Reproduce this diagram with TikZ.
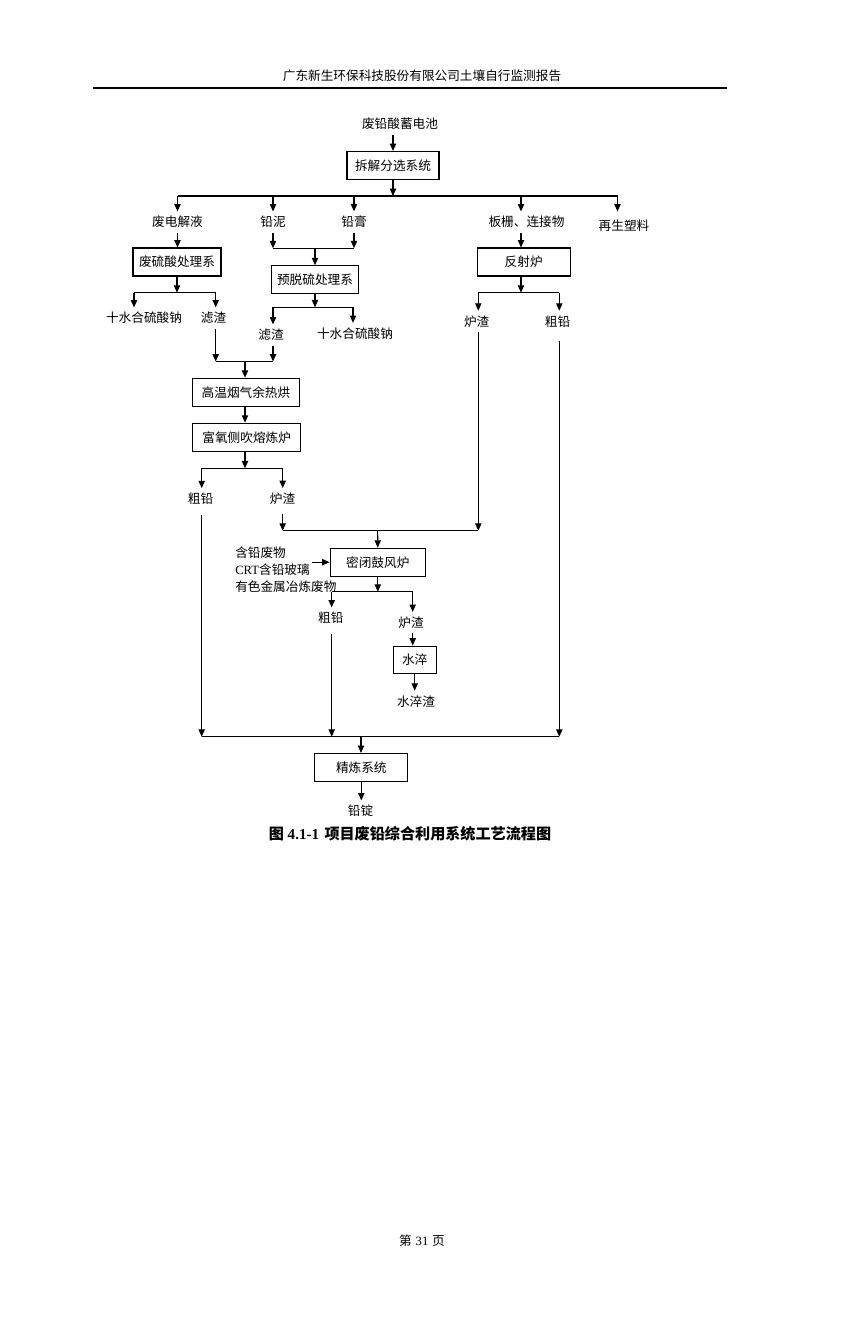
\documentclass[tikz,border=0pt]{standalone}
\usepackage{fontspec}
\setmainfont{Noto Sans CJK SC}
\newfontfamily\tnr{Liberation Serif}
\usetikzlibrary{arrows.meta}

\begin{document}
\begin{tikzpicture}[x=0.02cm, y=-0.02cm, line width=0.6pt,
    >={Triangle[length=4.2pt,width=3.6pt]},
    lbl/.style={inner xsep=1pt, inner ysep=2.4pt, font=\fontsize{7.2pt}{8pt}\selectfont},
    box/.style={lbl, draw, minimum width=1.84cm, minimum height=0.56cm}]
    \useasboundingbox (0,0) rectangle (844,1334);
    % page header
    \node[lbl] (hd) at (422,76) {广东新生环保科技股份有限公司土壤自行监测报告};
    \draw[line width=1.3pt] (93,88) -- (727,88);

    % dismantling and sorting
    \node[lbl] (src) at (400,124) {废铅酸蓄电池};
    \node[box] (cj) at (393,165.5) {拆解分选系统};
    \coordinate (j1) at (393,196);
    \node[lbl] (fdj) at (177.5,222) {废电解液};
    \node[lbl] (qn) at (273,222) {铅泥};
    \node[lbl] (qg) at (354,222) {铅膏};
    \node[lbl] (bs) at (526.5,222) {板栅、连接物};
    \node[lbl] (zs) at (624,226) {再生塑料};
    \coordinate (bsx) at (521,222);
    \coordinate (zsx) at (617.5,222);
    \draw[->] (src.south -| cj) -- (cj);
    \draw[->] (cj) -- (j1);
    \draw (j1 -| fdj) -- (j1 -| zsx);
    \draw[->] (j1 -| fdj) -- (fdj);
    \draw[->] (j1 -| qn) -- (qn);
    \draw[->] (j1 -| qg) -- (qg);
    \draw[->] (j1 -| bsx) -- (bsx |- bs.north);
    \draw[->] (j1 -| zsx) -- (zsx |- bs.north);

    % treatment systems
    \node[box, minimum width=1.76cm] (fls) at (177,262) {废硫酸处理系};
    \node[box, minimum width=1.74cm] (ytl) at (315,279.7) {预脱硫处理系};
    \node[box, minimum width=1.86cm] (fsl) at (523.7,262) {反射炉};
    \coordinate (j2) at (315,248.3);
    \draw[->] (fdj) -- (fdj |- fls.north);
    \draw[->] (qn) -- (qn |- j2);
    \draw[->] (qg) -- (qg |- j2);
    \draw (qn |- j2) -- (qg |- j2);
    \draw[->] (j2) -- (ytl);
    \draw[->] (bsx |- bs.south) -- (bsx |- fsl.north);

    \coordinate (j3l) at (134,292.7);
    \coordinate (j3r) at (215.7,292.7);
    \node[lbl] (sxa) at (144,318) {十水合硫酸钠};
    \node[lbl] (lz1) at (213.5,318) {滤渣};
    \draw[->] (fls) -- (fls |- j3l);
    \draw (j3l) -- (j3r);
    \draw[->] (j3l) -- (j3l |- sxa.north);
    \draw[->] (j3r) -- (j3r |- lz1.north);

    \coordinate (j4l) at (273,307.3);
    \coordinate (j4r) at (353,307.3);
    \node[lbl] (lz2) at (271,335) {滤渣};
    \node[lbl] (sxb) at (355,333.5) {十水合硫酸钠};
    \draw[->] (ytl) -- (ytl |- j4l);
    \draw (j4l) -- (j4r);
    \draw[->] (j4l) -- (j4l |- lz2.north);
    \draw[->] (j4r) -- (j4r |- sxb.north);

    \coordinate (j5l) at (478.3,292.7);
    \coordinate (j5r) at (559.3,292.7);
    \node[lbl] (lzf) at (476.7,321.3) {炉渣};
    \node[lbl] (cqf) at (557.5,321.3) {粗铅};
    \draw[->] (bsx |- fsl.south) -- (bsx |- j5l);
    \draw (j5l) -- (j5r);
    \draw[->] (j5l) -- (j5l |- lzf.north);
    \draw[->] (j5r) -- (j5r |- cqf.north);

    % drying and oxygen-rich smelting
    \coordinate (j6) at (245,361.5);
    \node[box, minimum width=2.13cm] (gw) at (246,392.2) {高温烟气余热烘};
    \node[box, minimum width=2.16cm] (fy) at (246.7,437.2) {富氧侧吹熔炼炉};
    \draw[->] (j3r |- lz1.south) -- (j3r |- j6);
    \draw[->] (j4l |- lz2.south) -- (j4l |- j6);
    \draw (j3r |- j6) -- (j4l |- j6);
    \draw[->] (j6) -- (j6 |- gw.north);
    \draw[->] (j6 |- gw.south) -- (j6 |- fy.north);

    \coordinate (j7l) at (201.7,468.3);
    \coordinate (j7r) at (282.7,468.3);
    \node[lbl] (cq1) at (200.5,498.7) {粗铅};
    \node[lbl] (lz3) at (282.5,498.7) {炉渣};
    \draw[->] (j6 |- fy.south) -- (j6 |- j7l);
    \draw (j7l) -- (j7r);
    \draw[->] (j7l) -- (j7l |- cq1.north);
    \draw[->] (j7r) -- (j7r |- lz3.north);

    % closed blast furnace
    \coordinate (j8) at (377.7,530.7);
    \node[box, minimum width=1.91cm] (mb) at (377.8,562.2) {密闭鼓风炉};
    \draw[->, shorten <=2.5pt] (j7r |- lz3.south) -- (j7r |- j8);
    \draw[->] (j5l |- lzf.south) -- (j5l |- j8);
    \draw (j7r |- j8) -- (j5l |- j8);
    \draw[->] (j8) -- (mb);

    \node[lbl, anchor=west] (in1) at (233,553) {含铅废物};
    \node[lbl, anchor=west] (in2) at (233,570) {{\tnr CRT}含铅玻璃};
    \node[lbl, anchor=west] (in3) at (233,587) {有色金属冶炼废物};
    \draw[->] (in2.east |- mb.west) -- (mb.west);

    \coordinate (j9l) at (331.7,591.7);
    \coordinate (j9r) at (412.7,591.7);
    \node[lbl] (cq2) at (330.8,618) {粗铅};
    \node[lbl] (lz4) at (411,622.5) {炉渣};
    \draw[->] (mb) -- (mb |- j9l);
    \draw (j9l) -- (j9r);
    \draw[->] (j9l) -- (j9l |- cq2.north);
    \draw[->] (j9r) -- (j9r |- lz4.north);

    \node[box, minimum width=0.854cm, minimum height=0.546cm] (sc) at (414.7,659.7) {水淬};
    \node[lbl] (scz) at (416,701.3) {水淬渣};
    \draw[->] (j9r |- lz4.south) -- (j9r |- sc.north);
    \draw[->] (sc) -- (sc |- scz.north);

    % refining
    \coordinate (j10) at (361,736.7);
    \node[box, minimum width=1.854cm] (jl) at (361.3,767.5) {精炼系统};
    \node[lbl] (qd) at (360.5,811) {铅锭};
    \draw[->, shorten <=3pt] (j7l |- cq1.south) -- (j7l |- j10);
    \draw[->, shorten <=3pt] (j9l |- cq2.south) -- (j9l |- j10);
    \draw[->, shorten <=5pt] (j5r |- cqf.south) -- (j5r |- j10);
    \draw (j7l |- j10) -- (j5r |- j10);
    \draw[->] (j10) -- (j10 |- jl.north);
    \draw[->] (jl) -- (jl |- qd.north);

    % caption and page number
    \node[font=\fontsize{8.6pt}{10pt}\selectfont\bfseries] (cap) at (410,834)
        {图\hspace{0.25em}{\tnr 4.1-1}\hspace{0.35em}项目废铅综合利用系统工艺流程图};
    \node[lbl] (pg) at (422,1241) {第\hspace{0.3em}{\tnr 31}\hspace{0.3em}页};
\end{tikzpicture}
\end{document}
